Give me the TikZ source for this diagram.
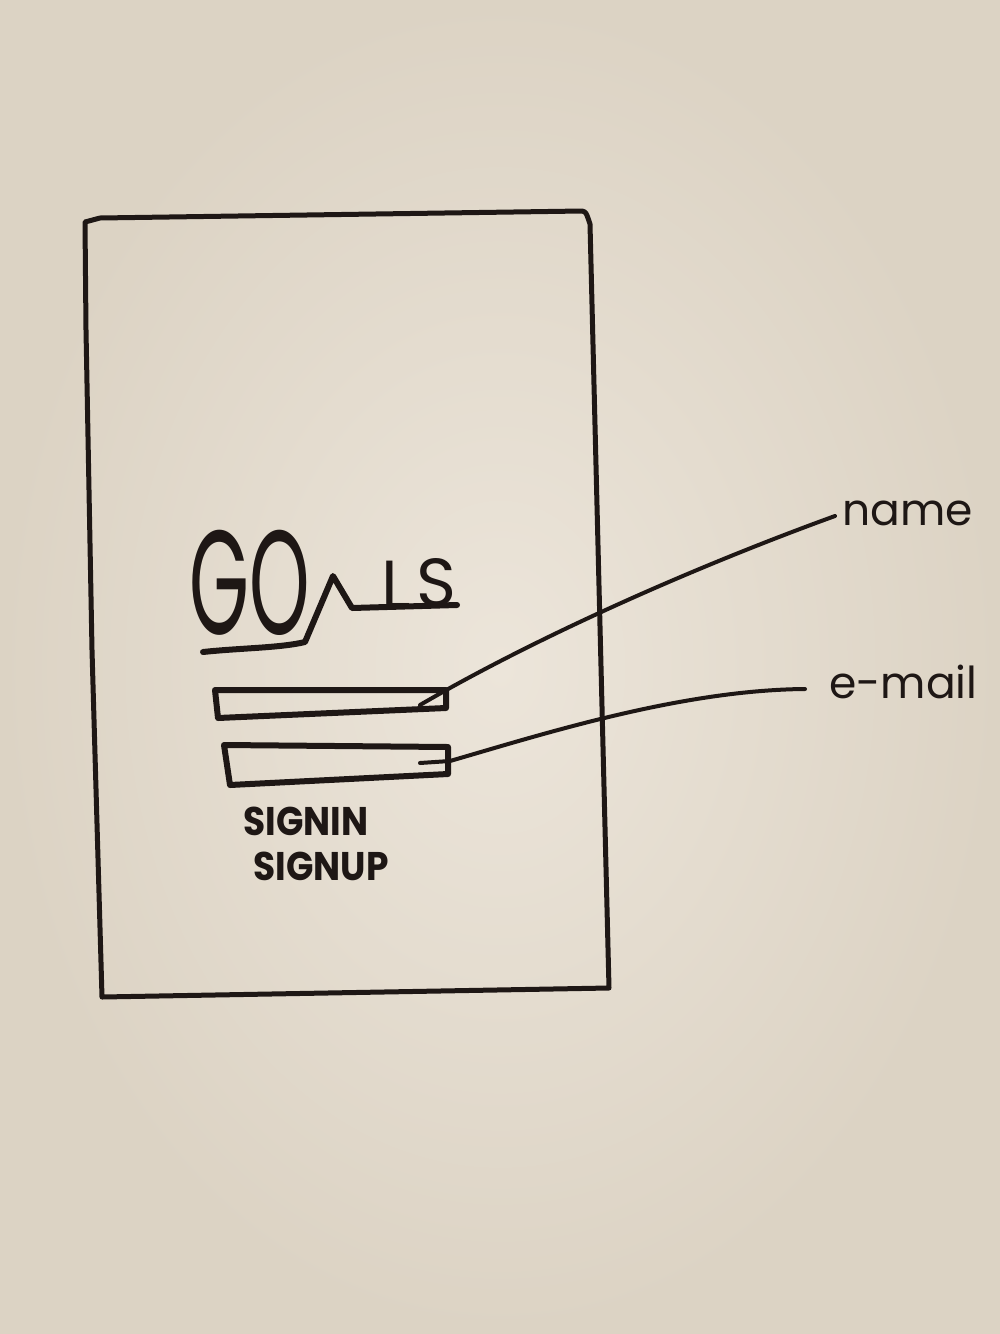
\documentclass[tikz,border=0pt]{standalone}
\usepackage{fontspec}
\setmainfont{Poppins}
\definecolor{inkc}{RGB}{30,23,21}
\definecolor{paperin}{RGB}{236,229,218}
\definecolor{paperout}{RGB}{220,211,196}
\begin{document}
\begin{tikzpicture}[x=0.5pt,y=-0.5pt,
  pen/.style={draw=inkc, line cap=round, line join=round},
  frame/.style={pen, line width=2.5pt},
  field/.style={pen, line width=3pt},
  wire/.style={pen, line width=2pt},
  logostroke/.style={pen, line width=3pt},
  letter/.style={inner sep=0pt, text=inkc, font=\fontsize{34}{40}\selectfont},
  btn/.style={inner sep=0pt, text=inkc, xscale=0.9, font=\bfseries\fontsize{20}{24}\selectfont},
  lbl/.style={inner ysep=0pt, inner xsep=0pt, text=inkc, font=\fontsize{22}{26}\selectfont}]
\useasboundingbox (0,0) rectangle (1000,1334);
\shade[inner color=paperin, outer color=paperout] (0,0) rectangle (1000,1334);

% phone frame
\draw[frame] (85,222) -- (100,218) -- (582,211) .. controls (586,212) .. (590,224)
  -- (609,988) -- (102,997) -- (92,650) -- (86,330) -- cycle;

% logo: tall "GO", the underline rising into the A, then L and S
\node[inner sep=0pt, anchor=base, xscale=0.52, text=inkc,
      font=\fontsize{74}{80}\selectfont] (go) at (250,634) {GO};
\draw[logostroke] (203,652) .. controls (240,648) and (280,648) .. (305,642)
  -- (333,576) -- (352,608) -- (457,605);
\node[letter, anchor=base west] (l) at (381,608) {L};
\node[letter, anchor=base west] (s) at (416,606) {S};

% input fields
\draw[field] (215,690) -- (446,690) -- (446,708) -- (218,718) -- cycle;
\draw[field] (224,745) -- (448,747) -- (448,774) -- (230,785) -- cycle;

% buttons
\node[btn, anchor=base west] (signin) at (243,835) {SIGNIN};
\node[btn, anchor=base west] (signup) at (253,880) {SIGNUP};

% annotations
\node[lbl, anchor=base west, inner xsep=3.5pt] (name) at (835,525) {name};
\node[lbl, anchor=base west] (email) at (805,698) {\hspace{12pt}e-mail};

\coordinate (f1tip) at (420,705);
\coordinate (f2tip) at (420,763);
\coordinate (f2edge) at (450,761);
\draw[wire] (f1tip) .. controls (540,635) and (700,565) .. ([yshift=4.5pt]name.base west);
\draw[wire] (f2tip) -- (f2edge) .. controls (540,735) and (680,690) .. ([yshift=4.5pt]email.base west);
\end{tikzpicture}
\end{document}
